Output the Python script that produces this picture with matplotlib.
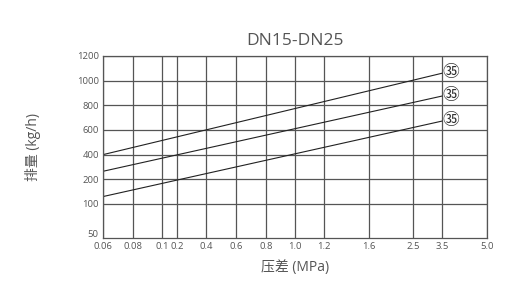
import numpy as np
import matplotlib
matplotlib.use('Agg')
import matplotlib.pyplot as plt

plt.rcParams['font.family'] = ['Open Sans', 'Noto Sans CJK SC', 'DejaVu Sans']

# chart data
title = 'DN15-DN25'
x_label = '压差 (MPa)'
y_label = '排量 (kg/h)'
x_ticks = [0.06, 0.08, 0.1, 0.2, 0.4, 0.6, 0.8, 1.0, 1.2, 1.6, 2.5, 3.5, 5.0]
x_tick_labels = ['0.06', '0.08', '0.1', '0.2', '0.4', '0.6', '0.8', '1.0', '1.2', '1.6', '2.5', '3.5', '5.0']
y_ticks = [50, 100, 200, 400, 600, 800, 1000, 1200]
y_tick_labels = ['50', '100', '200', '400', '600', '800', '1000', '1200']

# three curves, pressure -> capacity
curve_x = [0.06, 3.5]
curve_top = [400, 1060]
curve_mid = [265, 875]
curve_low = [130, 672]
curve_label = '㉟'

# the chart's axes are not linear/log, ticks sit at fixed spots
x_pos = [0, 30, 59, 74, 103, 133, 163, 192, 221, 266, 310, 339, 384]
y_pos = [-1.18, 0, 1, 2, 3, 4, 5, 6]


def interp_ext(v, xs, ys):
    # piecewise linear, extended past the ends
    v = np.asarray(v, dtype=float)
    out = np.interp(v, xs, ys)
    lo = v < xs[0]
    hi = v > xs[-1]
    out = np.where(lo, ys[0] + (v - xs[0]) * (ys[1] - ys[0]) / (xs[1] - xs[0]), out)
    out = np.where(hi, ys[-1] + (v - xs[-1]) * (ys[-1] - ys[-2]) / (xs[-1] - xs[-2]), out)
    return out


def fwd_x(v):
    return interp_ext(v, x_ticks, x_pos)


def inv_x(p):
    return interp_ext(p, x_pos, x_ticks)


def fwd_y(v):
    return interp_ext(v, y_ticks, y_pos)


def inv_y(p):
    return interp_ext(p, y_pos, y_ticks)


grey = '#555555'

fig = plt.figure(figsize=(5.3, 2.93), dpi=100)
ax = fig.add_axes([0.1943, 0.1877, 0.7245, 0.6212])
ax.set_xscale('function', functions=(fwd_x, inv_x))
ax.set_yscale('function', functions=(fwd_y, inv_y))
ax.set_xlim(0.06, 5.0)
ax.set_ylim(float(inv_y(-1.38)), 1200)

for xv in x_ticks:
    ax.axvline(xv, color=grey, lw=0.9, zorder=1)
for yv in y_ticks[1:]:
    ax.axhline(yv, color=grey, lw=0.9, zorder=1)

for ys in (curve_top, curve_mid, curve_low):
    ax.plot(curve_x, ys, color='#222222', lw=0.8, zorder=2)
    ax.text(curve_x[1], ys[1], curve_label, ha='left', va='center',
            fontsize=12, color='#333333', zorder=3)

ax.set_xticks(x_ticks)
ax.set_xticklabels(x_tick_labels)
ax.set_yticks(y_ticks)
ax.set_yticklabels(y_tick_labels)
ax.minorticks_off()
ax.tick_params(length=0, labelsize=6.8, labelcolor=grey, pad=3)

for s in ax.spines.values():
    s.set_color(grey)
    s.set_linewidth(0.9)

ax.set_title(title, fontsize=12.5, color=grey, pad=8)
ax.set_xlabel(x_label, fontsize=10, color=grey, labelpad=6)
ax.set_ylabel(y_label, fontsize=10, color=grey, labelpad=26)

fig.savefig('out.png', dpi=100)
